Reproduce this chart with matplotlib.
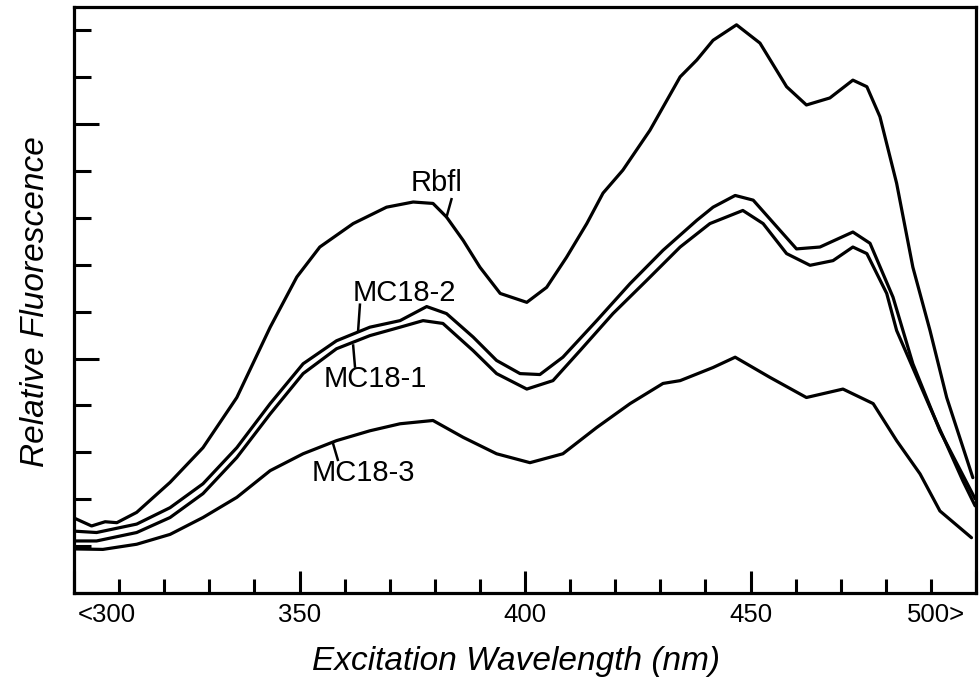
import matplotlib
matplotlib.use("Agg")
import matplotlib.pyplot as plt
from matplotlib.ticker import MultipleLocator, FixedLocator, NullFormatter
from matplotlib.transforms import ScaledTranslation

# ---- data ----
rbfl_wl = [300.0, 303.9, 306.9, 309.5, 313.9, 321.3, 328.6, 336.1, 343.5, 349.4, 354.5, 361.9,
           369.3, 375.2, 379.6, 382.6, 386.3, 390.0, 394.5, 400.4, 404.8, 409.2, 413.7, 417.3,
           421.7, 427.7, 434.4, 438.1, 441.7, 446.9, 452.1, 458.0, 462.4, 467.6, 472.7, 475.8,
           478.7, 482.4, 486.0, 489.8, 493.5, 499.3]
rbfl_val = [1.60, 1.43, 1.52, 1.50, 1.72, 2.36, 3.10, 4.17, 5.67, 6.74, 7.38, 7.88,
            8.23, 8.34, 8.31, 8.02, 7.52, 6.95, 6.39, 6.20, 6.52, 7.16, 7.88, 8.53,
            9.02, 9.87, 11.01, 11.37, 11.79, 12.12, 11.73, 10.80, 10.41, 10.56, 10.94, 10.80,
            10.16, 8.74, 6.95, 5.60, 4.17, 2.46]

mc2_wl = [300.0, 305.0, 313.9, 321.3, 328.6, 336.1, 343.5, 350.8, 358.2, 365.6, 372.3, 378.2,
          382.6, 388.5, 393.7, 398.9, 403.3, 408.4, 415.9, 423.3, 430.6, 438.1, 441.7, 446.6,
          450.6, 456.5, 460.2, 465.4, 472.7, 476.5, 481.6, 486.0, 492.0, 499.8]
mc2_val = [1.32, 1.29, 1.47, 1.82, 2.33, 3.10, 4.04, 4.89, 5.38, 5.67, 5.81, 6.11,
           5.96, 5.46, 4.96, 4.68, 4.66, 5.03, 5.81, 6.60, 7.31, 7.95, 8.23, 8.48,
           8.38, 7.74, 7.34, 7.38, 7.70, 7.46, 6.31, 4.89, 3.46, 2.01]

mc1_wl = [300.0, 305.0, 313.9, 321.3, 328.6, 336.1, 343.5, 350.8, 358.2, 365.6, 372.3, 377.4,
          381.8, 388.5, 393.7, 400.4, 406.2, 412.2, 419.5, 427.0, 434.4, 441.0, 448.3, 452.8,
          458.0, 463.2, 468.3, 472.7, 475.8, 480.2, 482.4, 489.8, 497.1, 499.8]
mc1_val = [1.11, 1.11, 1.29, 1.61, 2.12, 2.89, 3.82, 4.68, 5.21, 5.49, 5.67, 5.81,
           5.75, 5.17, 4.68, 4.35, 4.53, 5.17, 5.96, 6.67, 7.38, 7.88, 8.16, 7.88,
           7.24, 6.99, 7.09, 7.38, 7.24, 6.39, 5.60, 3.96, 2.39, 1.86]

mc3_wl = [300.0, 306.4, 313.9, 321.3, 328.6, 336.1, 343.5, 350.8, 358.2, 365.6, 372.3, 379.6,
          386.3, 393.7, 401.1, 408.4, 415.9, 423.3, 430.6, 434.4, 441.7, 446.6, 454.3, 462.4,
          470.5, 477.2, 482.4, 487.6, 492.0, 499.0]
mc3_val = [0.94, 0.93, 1.04, 1.25, 1.61, 2.04, 2.61, 2.97, 3.25, 3.46, 3.61, 3.68,
           3.32, 2.97, 2.78, 2.97, 3.53, 4.04, 4.47, 4.53, 4.81, 5.03, 4.60, 4.17,
           4.35, 4.04, 3.25, 2.54, 1.75, 1.18]

series_names = ["Rbfl", "MC18-2", "MC18-1", "MC18-3"]
x_tick_values = [300, 350, 400, 450, 500]
x_tick_labels = ["<300", "350", "400", "450", "500>"]

FONT = ["Liberation Sans", "DejaVu Sans"]
plt.rcParams['font.family'] = FONT

fig = plt.figure(figsize=(9.8, 6.83), dpi=100)
ax = fig.add_axes([74 / 980, 1 - 593 / 683, (976 - 74) / 980, (593 - 7) / 683])

lw = 2.3
for wl, val in [(rbfl_wl, rbfl_val), (mc2_wl, mc2_val), (mc1_wl, mc1_val), (mc3_wl, mc3_val)]:
    ax.plot(wl, val, color="black", lw=lw, solid_joinstyle="round", solid_capstyle="round")

ax.set_xlim(300, 500)
ax.set_ylim(0, 12.5)

for s in ax.spines.values():
    s.set_linewidth(2.3)

ax.xaxis.set_major_locator(FixedLocator(x_tick_values))
ax.set_xticklabels(x_tick_labels)
ax.xaxis.set_minor_locator(MultipleLocator(10))
ax.yaxis.set_major_locator(MultipleLocator(5))
ax.yaxis.set_minor_locator(MultipleLocator(1))
ax.yaxis.set_major_formatter(NullFormatter())

ax.tick_params(axis="both", which="both", direction="in", top=False, right=False, width=2.2)
ax.tick_params(axis="x", which="major", length=16, pad=7, labelsize=18.5)
ax.tick_params(axis="x", which="minor", length=10)
ax.tick_params(axis="y", which="major", length=18)
ax.tick_params(axis="y", which="minor", length=12)

labels = ax.get_xticklabels()
labels[0].set_transform(labels[0].get_transform() + ScaledTranslation(0.33, 0, fig.dpi_scale_trans))
labels[-1].set_transform(labels[-1].get_transform() + ScaledTranslation(-0.40, 0, fig.dpi_scale_trans))

# axis titles
ax.text(0.49, -0.131, "Excitation Wavelength (nm)", transform=ax.transAxes, ha="center", va="baseline",
        fontsize=24, style="italic")
ax.text(-0.043, 0.497, "Relative Fluorescence", transform=ax.transAxes, ha="center", va="center",
        rotation=90, fontsize=24, style="italic")

# curve labels with leader lines
lab_fs = 21
ax.text(380.3, 8.74, series_names[0], ha="center", va="center", fontsize=lab_fs)
ax.plot([383.7, 382.6], [8.40, 8.02], color="black", lw=1.8)
ax.text(373.2, 6.40, series_names[1], ha="center", va="center", fontsize=lab_fs)
ax.plot([363.4, 363.0], [6.15, 5.60], color="black", lw=1.8)
ax.text(366.7, 4.56, series_names[2], ha="center", va="center", fontsize=lab_fs)
ax.plot([361.9, 362.3], [5.28, 4.83], color="black", lw=1.8)
ax.text(364.2, 2.57, series_names[3], ha="center", va="center", fontsize=lab_fs)
ax.plot([357.4, 358.5], [3.20, 2.84], color="black", lw=1.8)

fig.savefig("out.png", dpi=100)
